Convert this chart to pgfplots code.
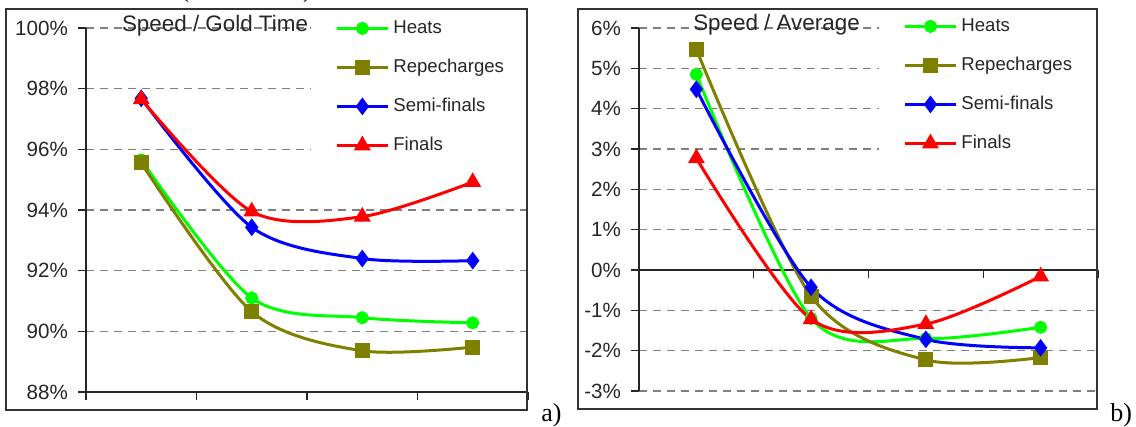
\documentclass[border=0pt]{standalone}
\usepackage{pgfplots}
\pgfplotsset{compat=1.18}
\usepackage{fontspec}
\setmainfont{Liberation Sans}
\newfontfamily\seriffont{Liberation Serif}
\definecolor{cHeat}{RGB}{0,255,0}
\definecolor{cRep}{RGB}{128,128,0}
\definecolor{cSemi}{RGB}{0,0,255}
\definecolor{cFin}{RGB}{255,0,0}
\definecolor{gridc}{RGB}{128,128,128}
\pgfplotsset{
 panel/.style={
   scale only axis, anchor=south west,
   xmin=0, xmax=4, xtick={0,1,2,3,4}, xticklabels={},
   axis y line*=left,
   tick align=outside, major tick length=4pt,
   tick style={black!85, line width=0.7pt},
   axis line style={black!85, line width=0.75pt},
   ymajorgrids, grid style={gridc, dash pattern=on 4pt off 3pt, line width=0.6pt},
   yticklabel style={font=\fontsize{10.3}{12}\selectfont, text=black!85, xshift=-1.5pt},
   yticklabel={\pgfmathprintnumber[assume math mode=true]{\tick}\%},
   legend cell align=left,
   legend style={draw=none, fill=white, anchor=north west, inner xsep=12pt, inner ysep=1.5pt,
      font=\fontsize{9.3}{11}\selectfont, text=black!85,
      nodes={inner sep=1pt, text height=7pt, text depth=2pt},
      row sep=8.5pt, column sep=1pt},
   legend image code/.code={\draw[mark repeat=2,mark phase=2,##1] plot coordinates {(0pt,0pt) (12.75pt,0pt) (25.5pt,0pt)};},
   every axis plot/.append style={line width=1.5pt, smooth, mark options={solid}},
 },
 heat/.style={color=cHeat, mark=*, mark size=2.5pt},
 rep/.style={color=cRep, mark=square*, mark size=3pt},
 semi/.style={color=cSemi, mark=diamond*, mark size=3.2pt},
 fin/.style={color=cFin, mark=triangle*, mark size=3.4pt},
}
\begin{document}
\begin{tikzpicture}
\useasboundingbox (0,0) rectangle (568pt,213.5pt);
% panel a
\begin{axis}[panel, at={(43pt,17.5pt)}, width=221pt, height=182pt,
  axis x line*=bottom,
  ymin=88, ymax=100, ytick={88,90,...,100},
  legend style={at={(0.509,1.0385)}}]
\addplot[heat] table[x=x,y=v] {
x v
0.5 95.65
1.5 91.10
2.5 90.45
3.5 90.28
};
\addplot[rep] table[x=x,y=v] {
x v
0.5 95.55
1.5 90.65
2.5 89.36
3.5 89.48
};
\addplot[semi] table[x=x,y=v] {
x v
0.5 97.68
1.5 93.43
2.5 92.40
3.5 92.33
};
\addplot[fin] table[x=x,y=v] {
x v
0.5 97.65
1.5 93.95
2.5 93.78
3.5 94.92
};
\legend{Heats, Repecharges, Semi-finals, Finals}
\end{axis}
% panel b
\begin{axis}[panel, at={(319.5pt,18pt)}, width=229.5pt, height=181.5pt,
  axis x line*=middle,
  ymin=-3, ymax=6, ytick={-3,...,6},
  legend style={at={(0.523,1.044)}}]
\addplot[heat] table[x=x,y=v] {
x v
0.5 4.85
1.5 -1.20
2.5 -1.70
3.5 -1.42
};
\addplot[rep] table[x=x,y=v] {
x v
0.5 5.47
1.5 -0.65
2.5 -2.23
3.5 -2.17
};
\addplot[semi] table[x=x,y=v] {
x v
0.5 4.48
1.5 -0.43
2.5 -1.72
3.5 -1.93
};
\addplot[fin] table[x=x,y=v] {
x v
0.5 2.77
1.5 -1.22
2.5 -1.34
3.5 -0.16
};
\legend{Heats, Repecharges, Semi-finals, Finals}
\end{axis}
% frames
\draw[black!80, line width=0.7pt] (3pt,8.5pt) rectangle (263.5pt,209pt);
\draw[black!80, line width=0.7pt] (289pt,9pt) rectangle (548.5pt,209pt);
% titles
\node[anchor=base, font=\fontsize{11.2}{13}\selectfont, text=black!85, inner sep=0pt] at (107.5pt,197.5pt) {Speed / Gold Time};
\node[anchor=base, font=\fontsize{11.2}{13}\selectfont, text=black!85, inner sep=0pt] at (388.25pt,198pt) {Speed / Average};
% panel letters
\node[anchor=base west, font=\seriffont\fontsize{13}{15}\selectfont, inner sep=0pt] at (270.5pt,2.5pt) {a)};
\node[anchor=base west, font=\seriffont\fontsize{13}{15}\selectfont, inner sep=0pt] at (555pt,2.5pt) {b)};
% cut caption parentheses at top
\node[anchor=base, font=\seriffont\fontsize{12}{14}\selectfont, inner sep=0pt] at (92.5pt,214.5pt) {(};
\node[anchor=base, font=\seriffont\fontsize{12}{14}\selectfont, inner sep=0pt] at (153.5pt,214.5pt) {)};
\end{tikzpicture}
\end{document}
